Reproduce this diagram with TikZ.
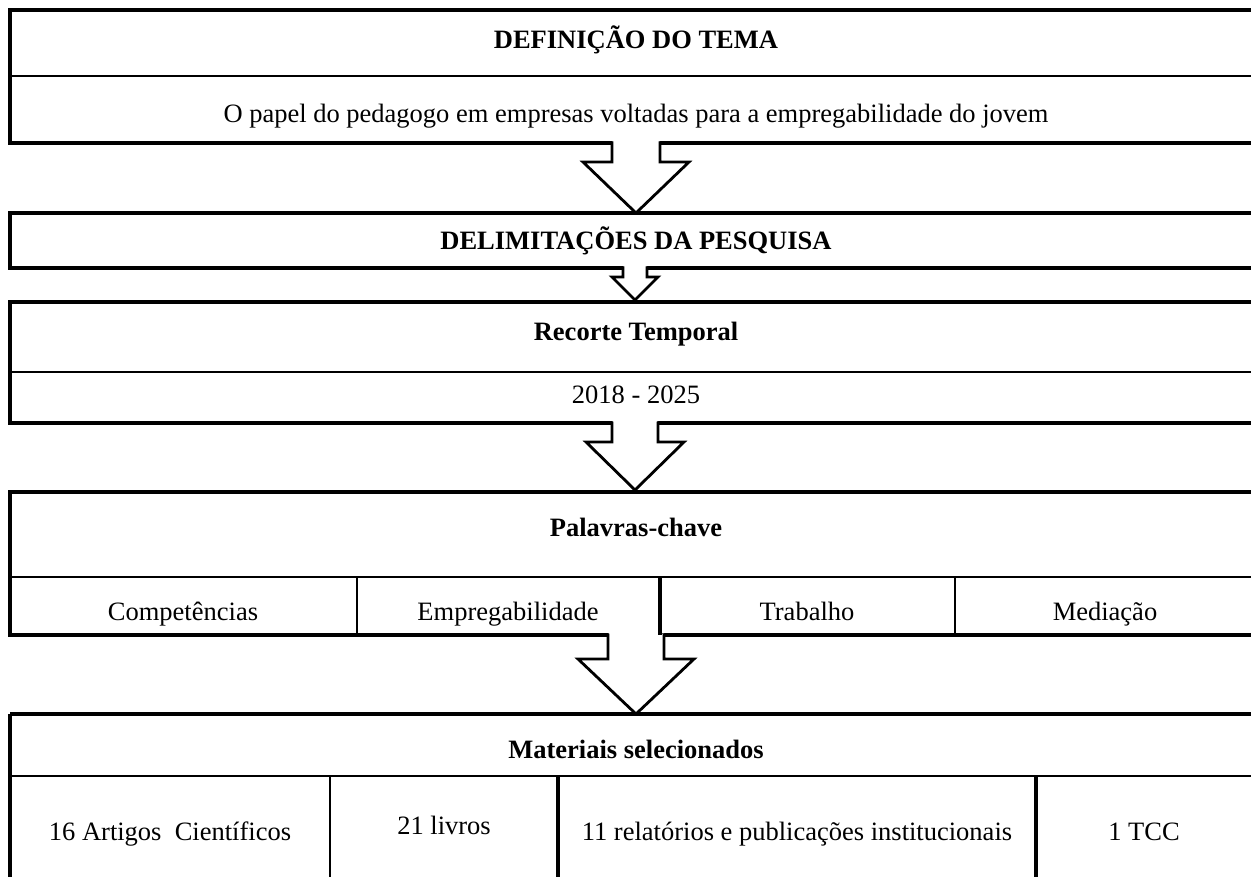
\documentclass[tikz,border=0pt]{standalone}
\usepackage{fontspec}
\setmainfont{Liberation Serif}
\usetikzlibrary{calc}
\begin{document}
\begin{tikzpicture}[x=1pt,y=-1pt,
  outer/.style={line width=3.5pt},
  inner/.style={line width=1.8pt},
  thickdiv/.style={line width=3.2pt},
  txt/.style={font=\fontsize{26.5}{30}\selectfont, inner sep=0pt, anchor=base},
  btxt/.style={txt, font=\fontsize{26.5}{30}\selectfont\bfseries},
  blockarrow/.style={draw, fill=white, line width=2.8pt, line join=miter}]
\useasboundingbox (0,0) rectangle (1251,877);
\clip (0,0) rectangle (1251,877);

% Box 1
\draw[outer] (10,10) rectangle (1265,143);
\draw[inner] (10,76) -- (1265,76);
\node[btxt] (tema) at (636,49) {DEFINIÇÃO DO TEMA};
\node[txt] (temadesc) at (636,123) {O papel do pedagogo em empresas voltadas para a empregabilidade do jovem};

% Box 2
\draw[outer] (10,213) rectangle (1265,268);
\node[btxt] (delim) at (636,250) {DELIMITAÇÕES DA PESQUISA};

% Box 3
\draw[outer] (10,302) rectangle (1265,423);
\draw[inner] (10,372) -- (1265,372);
\node[btxt] (recorte) at (636,341) {Recorte Temporal};
\node[txt] (anos) at (636,403) {2018 - 2025};

% Box 4
\draw[outer] (10,492) rectangle (1265,635);
\draw[inner] (10,577) -- (1265,577);
\draw[inner] (357,577) -- (357,635);
\draw[inner] (955,577) -- (955,635);
\node[btxt] (palavras) at (636,536) {Palavras-chave};
\node[txt] (comp) at (183,620) {Competências};
\node[txt] (empr) at (508,620) {Empregabilidade};
\node[txt] (trab) at (807,620) {Trabalho};
\node[txt] (medi) at (1105,620) {Mediação};

% Box 5
\draw[outer] (10,714) -- (1265,714);
\draw[outer] (10,714) -- (10,900);
\draw[inner] (10,776) -- (1265,776);
\draw[inner] (330,776) -- (330,900);
\draw[line width=4pt] (558,776) -- (558,900);
\draw[line width=3.5pt] (1036,776) -- (1036,900);
\node[btxt] (mat) at (636,758) {Materiais selecionados};
\node[txt] (art) at (170,840) {16 Artigos\ \ Científicos};
\node[txt] (liv) at (444,834) {21 livros};
\node[txt] (rel) at (797,840) {11 relatórios e publicações institucionais};
\node[txt] (tcc) at (1144,840) {1 TCC};

% block arrows
\coordinate (a1s) at (636,143); \coordinate (a1e) at (636,213);
\coordinate (a2s) at (635,268); \coordinate (a2e) at (635,300);
\coordinate (a3s) at (635,423); \coordinate (a3e) at (635,490);
\coordinate (a4s) at (636,635); \coordinate (a4e) at (636,714);

% arrow 1
\fill[white] ($(a1s)+(-23,-2)$) rectangle ($(a1s)+(23,4)$);
\draw[blockarrow] ($(a1s)+(-24,-1.5)$) -- ($(a1s)+(-24,19)$) -- ($(a1s)+(-53,19)$) -- (a1e) -- ($(a1s)+(53,19)$) -- ($(a1s)+(24,19)$) -- ($(a1s)+(24,-1.5)$);
% arrow 2
\fill[white] ($(a2s)+(-11,-2)$) rectangle ($(a2s)+(11,4)$);
\draw[blockarrow] ($(a2s)+(-12,-1.5)$) -- ($(a2s)+(-12,9)$) -- ($(a2s)+(-23,9)$) -- (a2e) -- ($(a2s)+(23,9)$) -- ($(a2s)+(12,9)$) -- ($(a2s)+(12,-1.5)$);
% arrow 3
\fill[white] ($(a3s)+(-22,-2)$) rectangle ($(a3s)+(22,4)$);
\draw[blockarrow] ($(a3s)+(-23,-1.5)$) -- ($(a3s)+(-23,19)$) -- ($(a3s)+(-49,19)$) -- (a3e) -- ($(a3s)+(49,19)$) -- ($(a3s)+(23,19)$) -- ($(a3s)+(23,-1.5)$);
% arrow 4
\fill[white] ($(a4s)+(-27,-2)$) rectangle ($(a4s)+(22,4)$);
\draw[blockarrow] ($(a4s)+(-28,-1.5)$) -- ($(a4s)+(-28,24)$) -- ($(a4s)+(-58,24)$) -- (a4e) -- ($(a4s)+(58,24)$) -- ($(a4s)+(28,24)$) -- ($(a4s)+(28,-1.5)$);

% thick divider in box 4, drawn over the arrow's shaft end
\draw[thickdiv] (660,577) -- (660,635);
\end{tikzpicture}
\end{document}
